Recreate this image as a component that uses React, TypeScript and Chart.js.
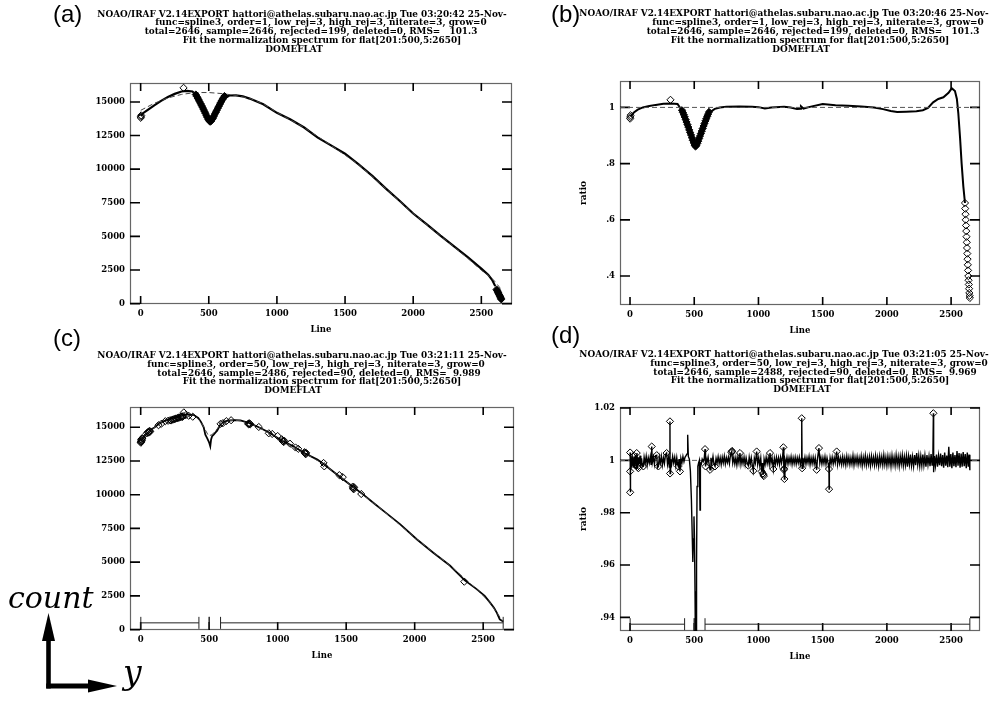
import React, { useEffect, useRef } from "react";
import { Chart, registerables } from "chart.js";

Chart.register(...registerables);

// ---------------- axes ----------------
const X_MIN = -78;
const X_MAX = 2725;
const X_TICKS = [0, 500, 1000, 1500, 2000, 2500];
const COUNT_TICKS = [0, 2500, 5000, 7500, 10000, 12500, 15000];
const RATIO_TICKS_B = [0.4, 0.6, 0.8, 1];
const RATIO_TICKS_D = [0.94, 0.96, 0.98, 1, 1.02];

// ---------------- panel (a): order=1 fit of counts ----------------
const A_LINE = [1, 20, 50, 100, 150, 200, 250, 300, 340, 380, 410, 440, 470, 500, 520, 540, 570, 600, 650, 700, 750, 800, 900, 1000, 1100, 1200, 1300, 1400, 1500, 1600, 1700, 1800, 1900, 2000, 2100, 2200, 2300, 2400, 2500, 2550, 2580, 2602];
const A_COUNT = [13950, 14180, 14400, 14750, 15080, 15370, 15600, 15780, 15830, 15780, 15500, 14880, 14250, 13650, 13600, 13900, 14600, 15150, 15480, 15490, 15420, 15250, 14830, 14190, 13700, 13100, 12350, 11750, 11150, 10350, 9500, 8550, 7650, 6700, 5900, 5050, 4250, 3450, 2600, 2150, 1750, 1300];
const A_FIT_LINE = [1, 100, 200, 300, 400, 500, 600, 700, 800, 900, 1000, 1200, 1400, 1600, 1800, 2000, 2200, 2400, 2500, 2550, 2600, 2646];
const A_FIT = [14380, 14900, 15300, 15560, 15700, 15700, 15620, 15480, 15270, 14850, 14220, 13100, 11750, 10350, 8550, 6700, 5050, 3380, 2480, 2100, 1650, 1050];
// isolated rejected points
const A_REJ_LINE = [1, 2, 4, 315];
const A_REJ_COUNT = [13820, 13900, 14000, 16050];
// densely packed rejected points (dip and red end)
const A_DENSE_LINE = [
  405, 412, 419, 426, 433, 440, 447, 454, 461, 468, 475, 482, 489, 496, 503, 510,
  517, 524, 531, 538, 545, 552, 559, 566, 573, 580, 587, 594, 601, 608, 615,
  2612, 2616, 2620, 2624, 2628, 2632, 2636, 2640, 2644, 2646];
const A_DENSE_COUNT = [
  15550, 15420, 15290, 15160, 15020, 14880, 14740, 14600, 14450, 14300, 14160, 14000, 13860, 13720, 13600, 13530,
  13580, 13690, 13810, 13950, 14100, 14240, 14380, 14530, 14670, 14810, 14950, 15080, 15200, 15320, 15440,
  1050, 960, 880, 800, 720, 640, 560, 480, 400, 320];

// ---------------- panel (b): ratio for order=1 ----------------
const B_FIT_LEVEL = 1;
const B_LINE = [1, 30, 60, 100, 150, 200, 260, 320, 370, 400, 430, 460, 490, 510, 530, 560, 590, 620, 660, 700, 750, 850, 950, 1000, 1050, 1100, 1200, 1250, 1300, 1329, 1331, 1350, 1400, 1500, 1600, 1700, 1800, 1900, 1970, 2030, 2080, 2150, 2230, 2280, 2320, 2360, 2400, 2440, 2480, 2505, 2530, 2545, 2556, 2570, 2582, 2595, 2608];
const B_RATIO = [0.968, 0.982, 0.992, 1.0, 1.005, 1.009, 1.013, 1.014, 1.012, 0.992, 0.962, 0.921, 0.882, 0.861, 0.879, 0.917, 0.955, 0.982, 0.995, 1.0, 1.002, 1.003, 1.002, 1.001, 0.996, 1.0, 1.002, 1.0, 0.994, 0.995, 1.004, 0.996, 1.002, 1.012, 1.008, 1.006, 1.003, 1.0, 0.994, 0.987, 0.984, 0.985, 0.986, 0.99, 0.998, 1.018, 1.03, 1.036, 1.052, 1.068, 1.058, 1.03, 0.98, 0.89, 0.8, 0.72, 0.66];
const B_REJ_LINE = [1, 2, 4, 315,
  2608, 2610, 2612, 2614, 2616, 2618, 2620, 2622, 2624, 2626, 2628, 2630, 2632, 2634, 2636, 2638, 2640, 2642, 2644, 2646];
const B_REJ_RATIO = [0.96, 0.966, 0.972, 1.027,
  0.66, 0.64, 0.62, 0.6, 0.58, 0.56, 0.54, 0.52, 0.5, 0.48, 0.46, 0.44, 0.42, 0.4, 0.385, 0.37, 0.355, 0.34, 0.33, 0.322];
const B_DENSE_LINE = [
  405, 412, 419, 426, 433, 440, 447, 454, 461, 468, 475, 482, 489, 496, 503, 510,
  517, 524, 531, 538, 545, 552, 559, 566, 573, 580, 587, 594, 601, 608, 615];
const B_DENSE_RATIO = [
  0.99, 0.982, 0.974, 0.966, 0.957, 0.948, 0.939, 0.93, 0.92, 0.911, 0.902, 0.892, 0.883, 0.874, 0.866, 0.861,
  0.865, 0.872, 0.88, 0.889, 0.898, 0.907, 0.916, 0.925, 0.934, 0.943, 0.952, 0.96, 0.968, 0.976, 0.984];

// ---------------- panel (c): order=50 fit of counts ----------------
const C_LINE = [1, 20, 40, 60, 80, 100, 133, 170, 218, 260, 303, 340, 388, 420, 440, 460, 472, 485, 496, 502, 508, 514, 522, 533, 545, 558, 582, 610, 643, 690, 728, 789, 862, 934, 1032, 1104, 1201, 1290, 1335, 1444, 1553, 1614, 1700, 1772, 1893, 2015, 2136, 2257, 2366, 2450, 2511, 2549, 2580, 2600, 2621, 2646];
const C_COUNT = [14000, 14250, 14450, 14650, 14850, 14980, 15250, 15450, 15620, 15750, 15870, 15950, 15900, 15700, 15400, 15000, 14450, 14200, 13960, 13800, 13590, 14100, 14350, 14455, 14600, 14750, 15200, 15420, 15500, 15530, 15500, 15320, 15000, 14630, 14000, 13640, 13050, 12600, 12270, 11400, 10550, 10100, 9380, 8800, 7820, 6700, 5700, 4750, 3650, 3020, 2500, 2020, 1600, 1240, 750, 600];
const C_FIT_LINE = [1, 60, 133, 218, 303, 388, 440, 472, 496, 520, 545, 582, 643, 728, 862, 1032, 1201, 1335, 1553, 1772, 2015, 2257, 2450, 2549, 2600, 2646];
const C_FIT = [14050, 14650, 15250, 15620, 15870, 15900, 15400, 14800, 14350, 14450, 14700, 15200, 15500, 15500, 15000, 14000, 13050, 12270, 10550, 8800, 6700, 4750, 3020, 2020, 1240, 600];
const C_REJ_LINE = [1, 2, 3, 4, 6, 8, 10, 12, 45, 52, 55, 58, 62, 66, 70, 130, 150, 180, 200, 215, 222, 230, 238, 245, 252, 260, 268, 275, 282, 290, 296, 300, 305, 310, 315, 330, 350, 380, 583, 600, 625, 660, 785, 788, 792, 796, 800, 862, 935, 960, 1000, 1030, 1035, 1040, 1044, 1048, 1090, 1130, 1150, 1196, 1198, 1202, 1205, 1208, 1335, 1340, 1450, 1475, 1548, 1550, 1552, 1555, 1558, 1610, 2362];
const C_REJ_COUNT = [13850, 13900, 13950, 14100, 14000, 14050, 14150, 14200, 14550, 14620, 14650, 14600, 14700, 14720, 14680, 15150, 15250, 15450, 15480, 15520, 15500, 15560, 15580, 15600, 15620, 15650, 15680, 15700, 15720, 15750, 15780, 15800, 15760, 15820, 16100, 15900, 15850, 15780, 15250, 15300, 15450, 15520, 15260, 15220, 15300, 15250, 15220, 15020, 14550, 14500, 14350, 14100, 14000, 13950, 13900, 14000, 13780, 13500, 13400, 13150, 13100, 13050, 13000, 13100, 12350, 12100, 11450, 11300, 10600, 10500, 10450, 10400, 10550, 10050, 3550];
const C_SAMPLE_START = [1, 500, 583];
const C_SAMPLE_END = [425, 500, 2646];
const C_SAMPLE_LEVEL = 500;

// ---------------- panel (d): ratio for order=50 ----------------
const D_FIT_LEVEL = 1;
const D_LINE = [
  1, 2, 3, 6, 12, 18, 24, 30, 36, 42,
  48, 54, 60, 66, 72, 78, 84, 90, 96, 104,
  110, 118, 126, 134, 142, 150, 158, 164, 169, 174,
  182, 190, 198, 208, 214, 221, 228, 236, 244, 252,
  260, 268, 276, 285, 292, 300, 306, 311, 312, 316,
  324, 332, 340, 348, 356, 364, 370, 376, 382, 389,
  396, 404, 412, 420, 428, 436, 444, 449, 454, 462,
  470, 478, 485, 489, 494, 498, 502, 506, 510, 514,
  518, 522, 528, 534, 540, 545, 548, 555, 562, 570,
  578, 584, 588, 594,
  600, 608, 616, 623, 630, 638, 646, 654, 662, 670,
  678, 686, 694, 702, 710, 718, 726, 734, 742, 750,
  758, 766, 774, 782, 792, 800, 808, 816, 824, 832,
  840, 848, 856, 864, 872, 880, 888, 896, 904, 912,
  921, 928, 936, 944, 952, 960, 968, 976, 986, 994,
  1002, 1010, 1018, 1025, 1032, 1038, 1044, 1052, 1060, 1068,
  1076, 1084, 1090, 1098, 1106, 1116, 1124, 1132, 1140, 1148,
  1156, 1164, 1172, 1180, 1188, 1194, 1198, 1202, 1206, 1214,
  1222, 1230, 1238, 1246, 1254, 1262, 1270, 1278, 1286, 1294,
  1302, 1310, 1318, 1326, 1334, 1337, 1340, 1346, 1354, 1362,
  1370, 1378, 1386, 1394, 1402, 1410, 1418, 1426, 1434, 1442,
  1453, 1460, 1471, 1478, 1486, 1494, 1502, 1510, 1518, 1526,
  1534, 1542, 1549, 1550, 1552, 1558, 1566, 1574, 1582, 1590,
  1598, 1609, 1616, 1624, 1632, 1640, 1648, 1656, 1664, 1672,
  1680, 1688, 1696, 1704, 1712, 1720, 1728, 1736, 1744, 1752,
  1760, 1768, 1776, 1784, 1792, 1800, 1808, 1816, 1824, 1832,
  1840, 1848, 1856, 1864, 1872, 1880, 1888, 1896, 1904, 1912,
  1920, 1928, 1936, 1944, 1952, 1960, 1968, 1976, 1984, 1992,
  2000, 2008, 2016, 2024, 2032, 2040, 2048, 2056, 2064, 2072,
  2080, 2088, 2096, 2104, 2112, 2120, 2128, 2136, 2144, 2152,
  2160, 2168, 2176, 2184, 2192, 2200, 2208, 2216, 2224, 2232,
  2240, 2248, 2256, 2264, 2272, 2280, 2288, 2296, 2304, 2312,
  2320, 2328, 2336, 2344, 2352, 2358, 2362, 2364, 2370, 2378,
  2386, 2394, 2402, 2410, 2418, 2426, 2434, 2442, 2450, 2458,
  2466, 2474, 2482, 2490, 2498, 2506, 2514, 2522, 2530, 2538,
  2546, 2554, 2562, 2570, 2578, 2586, 2594, 2602, 2610, 2618,
  2626, 2634, 2640, 2646,
];
const D_RATIO = [
  1.003, 0.9878, 0.996, 1.0025, 0.9985, 1.001, 0.9975, 1.0015, 0.999, 1.002,
  0.997, 1.0028, 0.9968, 1.0012, 0.9985, 1.0018, 0.998, 1.0008, 0.9975, 0.9977,
  1.0012, 0.9988, 1.0016, 0.9982, 1.001, 0.999, 1.0015, 0.9985, 1.0053, 0.9992,
  1.0012, 0.9985, 1.0018, 1.002, 0.9972, 0.9977, 1.0012, 0.999, 1.0015, 0.9982,
  1.001, 0.9988, 1.0022, 1.0028, 0.9985, 1.001, 0.9975, 1.0149, 0.995, 1.0005,
  0.9985, 1.0015, 0.999, 1.0012, 0.998, 1.001, 0.9985, 0.9977, 1.0005, 0.9958,
  1.0008, 0.999, 1.0015, 0.9995, 1.0012, 1.0018, 1.0025, 1.0098, 1.0015, 1.0005,
  0.996, 0.985, 0.97, 0.9612, 0.97, 0.9786, 0.97, 0.95, 0.925, 0.925,
  0.96, 0.99, 0.9977, 0.999, 1.0, 0.981, 0.999, 0.9985, 1.0005, 0.9996,
  1.0008, 1.0043, 0.9977, 1.0005,
  0.9992, 1.0012, 0.9985, 0.9964, 1.001, 0.999, 1.0015, 0.9985, 0.9977, 1.0008,
  0.999, 1.0014, 0.9988, 1.001, 0.9984, 1.0012, 0.999, 1.0016, 0.9986, 1.001,
  0.9992, 1.0012, 0.9988, 1.002, 1.0034, 0.999, 1.0012, 0.9986, 1.001, 0.9982,
  1.0014, 0.999, 1.0028, 0.9985, 1.001, 0.9988, 1.0012, 0.9984, 1.001, 0.999,
  0.998, 1.0012, 0.9986, 1.001, 0.9982, 0.996, 1.0008, 0.999, 1.0034, 0.9985,
  1.001, 0.998, 1.0008, 0.9958, 0.999, 0.9945, 1.0005, 0.9985, 1.0012, 0.9988,
  1.001, 0.9985, 1.0028, 0.999, 1.001, 0.9967, 1.0008, 0.9985, 1.0012, 0.9988,
  1.001, 0.9984, 1.0012, 0.999, 1.0015, 1.005, 0.9964, 0.9929, 1.0005, 0.9988,
  1.0012, 0.9986, 1.001, 0.999, 1.0014, 0.9985, 1.001, 0.9988, 1.0012, 0.9986,
  1.001, 0.999, 1.0012, 0.9984, 1.0008, 1.0161, 0.997, 1.001, 0.9988, 1.0012,
  0.9986, 1.001, 0.999, 1.0015, 0.9984, 1.001, 0.9988, 1.0012, 0.9986, 1.001,
  0.9964, 1.0008, 1.0047, 0.999, 1.0012, 0.9986, 1.001, 0.9988, 1.0014, 0.9985,
  1.001, 0.999, 0.9967, 0.989, 0.9975, 1.001, 0.9988, 1.0012, 0.9986, 1.001,
  0.999, 1.0034, 0.9985, 1.0012, 0.9988, 1.001, 0.9984, 1.0014, 0.9986, 1.001,
  0.9982, 1.0016, 0.9988, 1.0012, 0.9984, 1.001, 0.9986, 1.0018, 0.9982, 1.0012,
  0.9988, 1.0014, 0.9984, 1.001, 0.9986, 1.0016, 0.998, 1.0012, 0.9986, 1.0018,
  0.9982, 1.0012, 0.9985, 1.0014, 0.998, 1.0016, 0.9986, 1.0012, 0.9982, 1.0018,
  0.9984, 1.0012, 0.9978, 1.0016, 0.9986, 1.0014, 0.9982, 1.002, 0.9984, 1.0012,
  0.998, 1.0016, 0.9985, 1.0014, 0.9978, 1.0018, 0.9984, 1.0012, 0.998, 1.002,
  0.9984, 1.0014, 0.9978, 1.0016, 0.9986, 1.002, 0.998, 1.0014, 0.9982, 1.0018,
  0.9976, 1.0016, 0.9984, 1.0022, 0.998, 1.0014, 0.9978, 1.002, 0.9982, 1.0028,
  0.9984, 1.0018, 0.9978, 1.0016, 0.998, 1.0022, 0.9982, 1.0018, 0.9976, 1.002,
  0.9984, 1.0016, 0.9978, 1.0024, 0.9982, 1.001, 1.018, 0.9955, 1.0016, 0.998,
  1.0022, 0.9976, 1.0018, 0.9982, 1.0026, 0.9978, 1.002, 0.9972, 1.003, 0.998,
  1.0018, 0.9974, 1.0052, 0.9976, 1.0024, 0.997, 1.003, 0.9978, 1.002, 0.9974,
  1.0036, 0.998, 1.0028, 0.9972, 1.0026, 0.9976, 1.0032, 0.9978, 1.0024, 0.997,
  1.003, 0.9976, 1.0022, 0.9962,
];
const D_REJ_LINE = [1, 1, 1, 30, 40, 52, 58, 65, 104, 169, 208, 221, 285, 311, 312, 376, 389, 584, 588, 623, 662, 790, 792, 795, 856, 921, 960, 986, 1025, 1035, 1038, 1042, 1090, 1116, 1194, 1198, 1200, 1202, 1337, 1340, 1453, 1471, 1549, 1550, 1609, 2362];
const D_REJ_RATIO = [0.9878, 0.9958, 1.003, 1.0018, 0.9985, 1.0028, 0.9975, 0.997, 0.9977, 1.0053, 1.002, 0.9977, 1.0028, 1.0149, 0.995, 0.9977, 0.9958, 1.0043, 0.9977, 0.9964, 0.9977, 1.003, 1.0034, 1.0036, 1.0028, 0.998, 0.996, 1.0034, 0.9958, 0.995, 0.9945, 0.994, 1.0028, 0.9967, 1.005, 0.9964, 0.9968, 0.9929, 1.0161, 0.997, 0.9964, 1.0047, 0.9967, 0.989, 1.0034, 1.018];
const D_SAMPLE_START = [1, 500, 584];
const D_SAMPLE_END = [425, 500, 2646];
const D_SAMPLE_LEVEL = 0.9374;

// ---------------- helpers ----------------
const pts = (xs: number[], ys: number[]) => xs.map((x, i) => ({ x, y: ys[i] }));
const bars = (starts: number[], ends: number[], level: number) =>
  starts.flatMap((s, i) => [
    { x: s, y: level },
    { x: ends[i], y: level },
    { x: ends[i], y: null as any },
  ]);
const levelLine = (level: number) => [
  { x: X_MIN, y: level },
  { x: X_MAX, y: level },
];

const SERIF = "'DejaVu Serif', serif";
const TICK_FONT = { family: SERIF, size: 8.5, weight: "bold" as const, lineHeight: 1 };

const fmtCount = (v: number) => String(v);
const fmtRatio = (v: number) => String(v).replace(/^0\./, ".");

function lineDs(data: any[], width: number, color = "#000", dash: number[] = [], order = 2) {
  return { data, showLine: true, borderColor: color, borderWidth: width, borderDash: dash, pointRadius: 0, order };
}
function diamondDs(data: any[], fill = "rgba(0,0,0,0)") {
  return {
    data,
    showLine: false,
    pointStyle: "rectRot",
    pointRadius: 3.6,
    pointBorderWidth: 1,
    pointBorderColor: "#000",
    pointBackgroundColor: fill,
    order: 0,
  };
}
function barDs(data: any[]) {
  return {
    data,
    showLine: true,
    spanGaps: false,
    borderColor: "#222",
    borderWidth: 1,
    pointStyle: "line",
    pointRotation: 90,
    pointRadius: 6,
    pointBorderWidth: 1,
    pointBorderColor: "#222",
    order: 1,
  };
}

const irafFrame = {
  id: "irafFrame",
  beforeDatasetsDraw(chart: any) {
    const { ctx, chartArea } = chart;
    const { left, right, top, bottom } = chartArea;
    const xs = chart.scales.x;
    const ys = chart.scales.y;
    ctx.save();
    ctx.strokeStyle = "#666";
    ctx.lineWidth = 1.2;
    ctx.strokeRect(left + 0.5, top + 0.5, right - left - 1, bottom - top - 1);
    ctx.strokeStyle = "#000";
    ctx.lineWidth = 1.6;
    ctx.beginPath();
    for (const t of xs.ticks) {
      const p = xs.getPixelForValue(t.value);
      ctx.moveTo(p, bottom);
      ctx.lineTo(p, bottom - 8);
      ctx.moveTo(p, top);
      ctx.lineTo(p, top + 8);
    }
    for (const t of ys.ticks) {
      const p = ys.getPixelForValue(t.value);
      ctx.moveTo(left, p);
      ctx.lineTo(left + 10, p);
      ctx.moveTo(right, p);
      ctx.lineTo(right - 10, p);
    }
    ctx.stroke();
    ctx.restore();
  },
};

type Spec = {
  left: number;
  top: number;
  w: number;
  h: number;
  yW: number;
  yMin: number;
  yMax: number;
  yTicks: number[];
  fmt: (v: number) => string;
  yTitle?: string;
  datasets: any[];
};

const PAD_T = 10;
const PAD_R = 10;
const X_H = 40;

const SPECS: Spec[] = [
  {
    left: 130, top: 83, w: 382, h: 221, yW: 60, yMin: -30, yMax: 16410, yTicks: COUNT_TICKS, fmt: fmtCount,
    datasets: [
      diamondDs(pts(A_REJ_LINE, A_REJ_COUNT)),
      diamondDs(pts(A_DENSE_LINE, A_DENSE_COUNT), "#000"),
      lineDs(pts(A_FIT_LINE, A_FIT), 1, "#444", [5, 3], 1),
      lineDs(pts(A_LINE, A_COUNT), 2.2, "#000", [], 2),
    ],
  },
  {
    left: 620, top: 81, w: 360, h: 224, yW: 41, yMin: 0.297, yMax: 1.094, yTicks: RATIO_TICKS_B, fmt: fmtRatio, yTitle: "ratio",
    datasets: [
      diamondDs(pts(B_REJ_LINE, B_REJ_RATIO)),
      diamondDs(pts(B_DENSE_LINE, B_DENSE_RATIO), "#000"),
      lineDs(levelLine(B_FIT_LEVEL), 1, "#555", [5, 3], 1),
      lineDs(pts(B_LINE, B_RATIO), 2, "#000", [], 2),
    ],
  },
  {
    left: 130, top: 407, w: 384, h: 223, yW: 60, yMin: -30, yMax: 16500, yTicks: COUNT_TICKS, fmt: fmtCount,
    datasets: [
      diamondDs(pts(C_REJ_LINE, C_REJ_COUNT)),
      barDs(bars(C_SAMPLE_START, C_SAMPLE_END, C_SAMPLE_LEVEL)),
      lineDs(pts(C_FIT_LINE, C_FIT), 1, "#444", [5, 3], 1),
      lineDs(pts(C_LINE, C_COUNT), 1.8, "#000", [], 2),
    ],
  },
  {
    left: 620, top: 407, w: 360, h: 224, yW: 41, yMin: 0.9348, yMax: 1.0204, yTicks: RATIO_TICKS_D, fmt: fmtRatio, yTitle: "ratio",
    datasets: [
      diamondDs(pts(D_REJ_LINE, D_REJ_RATIO)),
      barDs(bars(D_SAMPLE_START, D_SAMPLE_END, D_SAMPLE_LEVEL)),
      lineDs(levelLine(D_FIT_LEVEL), 1, "#666", [5, 3], 3),
      lineDs(pts(D_LINE, D_RATIO), 1.4, "#000", [], 2),
    ],
  },
];

function Panel({ spec }: { spec: Spec }) {
  const ref = useRef<HTMLCanvasElement | null>(null);
  useEffect(() => {
    if (!ref.current) return;
    const chart = new Chart(ref.current, {
      type: "scatter",
      data: { datasets: spec.datasets },
      options: {
        animation: false,
        responsive: false,
        maintainAspectRatio: false,
        devicePixelRatio: 1,
        events: [],
        layout: { padding: { top: PAD_T, right: PAD_R, left: 0, bottom: 0 } },
        plugins: { legend: { display: false }, tooltip: { enabled: false } },
        scales: {
          x: {
            type: "linear",
            position: "bottom",
            min: X_MIN,
            max: X_MAX,
            afterBuildTicks: (s: any) => {
              s.ticks = X_TICKS.map((v) => ({ value: v }));
            },
            afterFit: (s: any) => {
              s.height = X_H;
            },
            grid: { display: false, drawTicks: false },
            border: { display: false },
            ticks: { font: TICK_FONT, color: "#000", padding: 6, maxRotation: 0, autoSkip: false, callback: (v: any) => String(v) },
            title: { display: true, text: "Line", color: "#000", font: TICK_FONT, padding: { top: 0, bottom: 10 } },
          },
          y: {
            type: "linear",
            position: "left",
            min: spec.yMin,
            max: spec.yMax,
            afterBuildTicks: (s: any) => {
              s.ticks = spec.yTicks.map((v) => ({ value: v }));
            },
            afterFit: (s: any) => {
              s.width = spec.yW;
            },
            grid: { display: false, drawTicks: false },
            border: { display: false },
            ticks: { font: TICK_FONT, color: "#000", padding: 5, autoSkip: false, callback: (v: any) => spec.fmt(v) },
            title: spec.yTitle
              ? { display: true, text: spec.yTitle, color: "#000", font: { ...TICK_FONT, size: 9 }, padding: 0 }
              : { display: false },
          },
        },
      } as any,
      plugins: [irafFrame as any],
    });
    return () => chart.destroy();
  }, [spec]);
  const cw = spec.yW + spec.w + PAD_R;
  const ch = PAD_T + spec.h + X_H;
  return (
    <canvas
      ref={ref}
      width={cw}
      height={ch}
      style={{ position: "absolute", left: spec.left - spec.yW, top: spec.top - PAD_T, width: cw, height: ch }}
    />
  );
}

// ---------------- header texts ----------------
type Header = { label: string; lx: number; ly: number; lines: string[]; centers: number[]; base: number; step: number };
const HEADERS: Header[] = [
  {
    label: "(a)", lx: 53, ly: 22,
    lines: [
      "NOAO/IRAF V2.14EXPORT hattori@athelas.subaru.nao.ac.jp Tue 03:20:42 25-Nov-",
      "func=spline3, order=1, low_rej=3, high_rej=3, niterate=3, grow=0",
      "total=2646, sample=2646, rejected=199, deleted=0, RMS=   101.3",
      "Fit the normalization spectrum for flat[201:500,5:2650]",
      "DOMEFLAT",
    ],
    centers: [302, 321, 311, 322, 294], base: 16.7, step: 8.75,
  },
  {
    label: "(b)", lx: 551, ly: 22,
    lines: [
      "NOAO/IRAF V2.14EXPORT hattori@athelas.subaru.nao.ac.jp Tue 03:20:46 25-Nov-",
      "func=spline3, order=1, low_rej=3, high_rej=3, niterate=3, grow=0",
      "total=2646, sample=2646, rejected=199, deleted=0, RMS=   101.3",
      "Fit the normalization spectrum for flat[201:500,5:2650]",
      "DOMEFLAT",
    ],
    centers: [784, 818, 813, 810, 801], base: 16.4, step: 8.8,
  },
  {
    label: "(c)", lx: 53, ly: 345.5,
    lines: [
      "NOAO/IRAF V2.14EXPORT hattori@athelas.subaru.nao.ac.jp Tue 03:21:11 25-Nov-",
      "func=spline3, order=50, low_rej=3, high_rej=3, niterate=3, grow=0",
      "total=2646, sample=2486, rejected=90, deleted=0, RMS=  9.989",
      "Fit the normalization spectrum for flat[201:500,5:2650]",
      "DOMEFLAT",
    ],
    centers: [302, 316, 319, 322, 293], base: 358.3, step: 8.6,
  },
  {
    label: "(d)", lx: 551, ly: 342.5,
    lines: [
      "NOAO/IRAF V2.14EXPORT hattori@athelas.subaru.nao.ac.jp Tue 03:21:05 25-Nov-",
      "func=spline3, order=50, low_rej=3, high_rej=3, niterate=3, grow=0",
      "total=2646, sample=2488, rejected=90, deleted=0, RMS=  9.969",
      "Fit the normalization spectrum for flat[201:500,5:2650]",
      "DOMEFLAT",
    ],
    centers: [784, 819, 815, 810, 802], base: 357.3, step: 8.6,
  },
];

export default function App() {
  return (
    <div style={{ position: "fixed", left: 0, top: 0, width: 993, height: 702, background: "#fff", overflow: "hidden" }}>
      {SPECS.map((s, i) => (
        <Panel key={i} spec={s} />
      ))}
      <svg width={993} height={702} style={{ position: "absolute", left: 0, top: 0, pointerEvents: "none" }}>
        {HEADERS.map((h, i) => (
          <g key={i}>
            <text x={h.lx} y={h.ly} fontFamily="'Liberation Sans', Arial, sans-serif" fontSize={24} fill="#000">
              {h.label}
            </text>
            {h.lines.map((t, j) => (
              <text
                key={j}
                x={h.centers[j]}
                y={h.base + j * h.step}
                textAnchor="middle"
                fontFamily={SERIF}
                fontWeight="bold"
                fontSize={8.9}
                fill="#000"
                style={{ whiteSpace: "pre" }}
              >
                {t}
              </text>
            ))}
          </g>
        ))}
        {/* count / y axes sketch */}
        <text x={8} y={608} fontFamily="'DejaVu Serif', serif" fontStyle="italic" fontSize={30} fill="#000">
          count
        </text>
        <text x={123} y={684} fontFamily="'DejaVu Serif', serif" fontStyle="italic" fontSize={33} fill="#000">
          y
        </text>
        <line x1={48.5} y1={688.5} x2={48.5} y2={638} stroke="#000" strokeWidth={4.6} />
        <polygon points="42,641 55,641 48.5,613" fill="#000" />
        <line x1={46.2} y1={686} x2={92} y2={686} stroke="#000" strokeWidth={4.8} />
        <polygon points="88,679.5 88,692.5 117,686" fill="#000" />
      </svg>
    </div>
  );
}
